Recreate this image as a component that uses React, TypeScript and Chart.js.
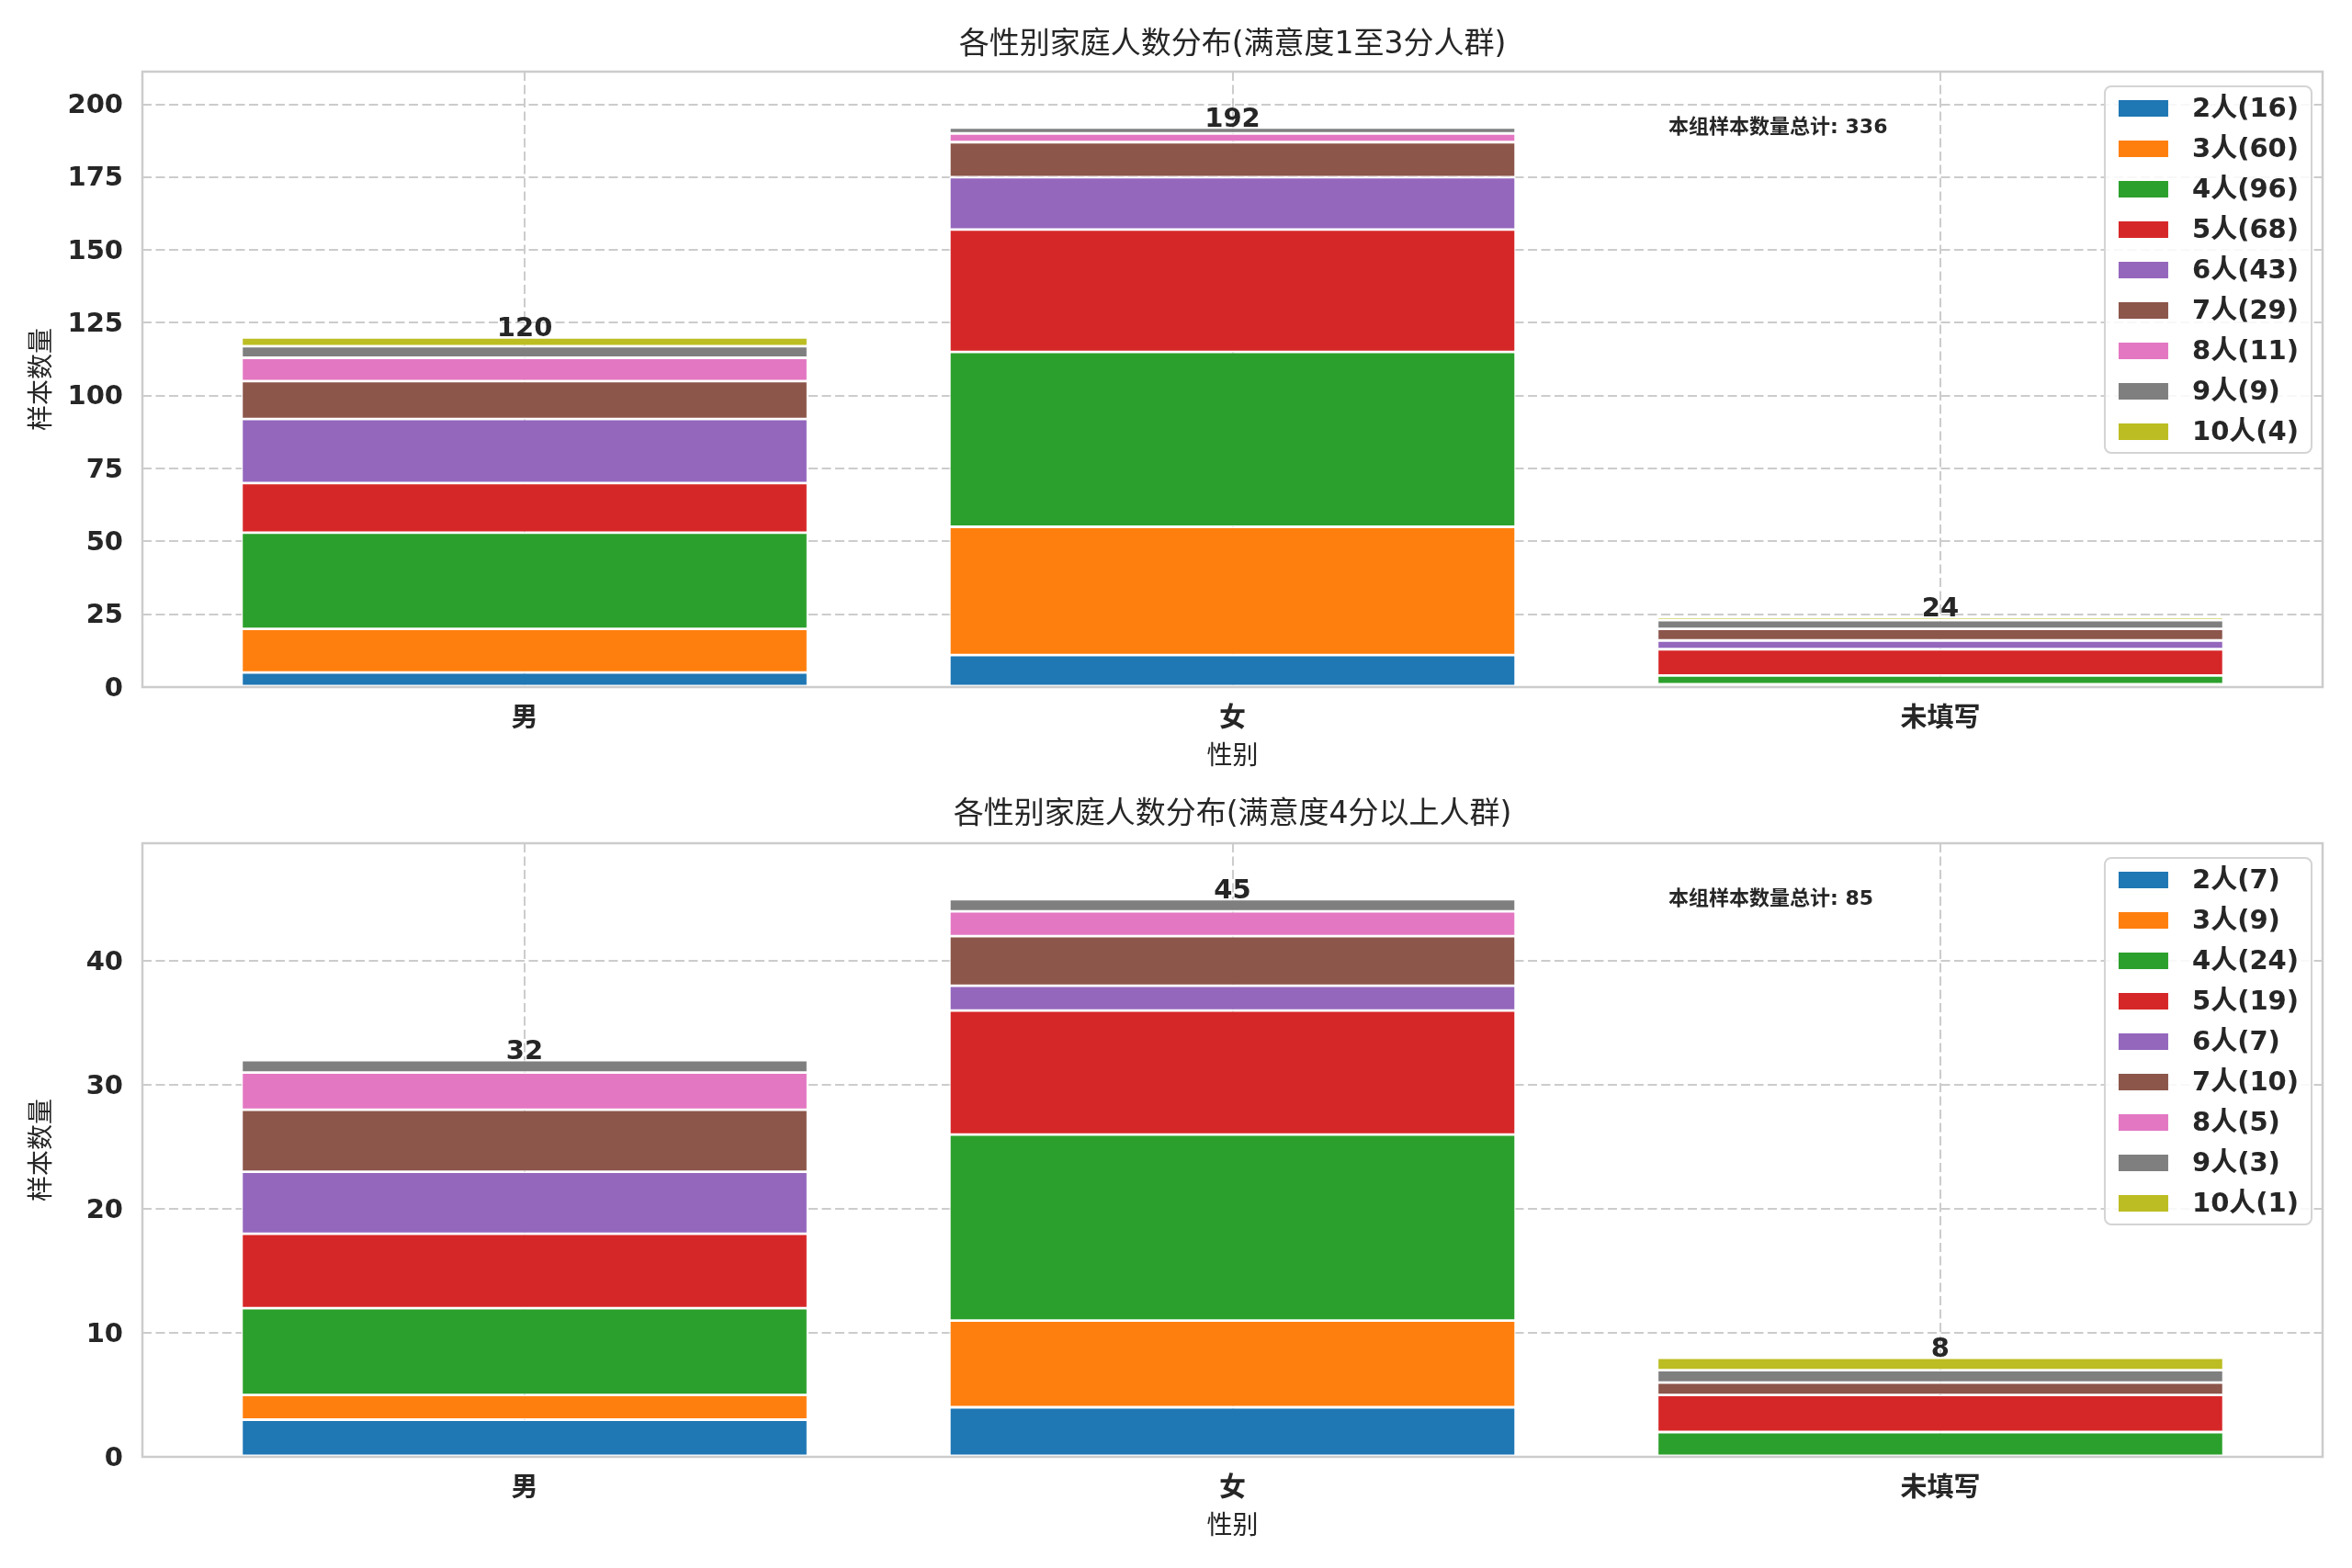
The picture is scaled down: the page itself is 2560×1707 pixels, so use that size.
import { useEffect, useRef } from 'react';
import { Chart, registerables } from 'chart.js';
Chart.register(...registerables);

const FONT = '"DejaVu Sans", "Noto Sans CJK SC", sans-serif';
const TEXT = '#262626';
const GRID = '#cccccc';

const categories = ['男', '女', '未填写'];
const sizeLabels = ['2人', '3人', '4人', '5人', '6人', '7人', '8人', '9人', '10人'];
const colors = ['#1f77b4', '#ff7f0e', '#2ca02c', '#d62728', '#9467bd', '#8c564b', '#e377c2', '#7f7f7f', '#bcbd22'];

// upper panel: one value per family size (2..10)
const topMale = [5, 15, 33, 17, 22, 13, 8, 4, 3];
const topFemale = [11, 44, 60, 42, 18, 12, 3, 2, 0];
const topUnknown = [0, 1, 3, 9, 3, 4, 0, 3, 1];

// lower panel
const bottomMale = [3, 2, 7, 6, 5, 5, 3, 1, 0];
const bottomFemale = [4, 7, 15, 10, 2, 4, 2, 1, 0];
const bottomUnknown = [0, 0, 2, 3, 0, 1, 0, 1, 1];

const topTitle = '各性别家庭人数分布(满意度1至3分人群)';
const bottomTitle = '各性别家庭人数分布(满意度4分以上人群)';
const xTitle = '性别';
const yTitle = '样本数量';
const notePrefix = '本组样本数量总计: ';

type PanelProps = {
  groups: number[][];
  title: string;
  step: number;
  height: number;
  padTop: number;
  padBottom: number;
  titleY: number;
};

function Panel({ groups, title, step, height, padTop, padBottom, titleY }: PanelProps) {
  const ref = useRef<HTMLCanvasElement | null>(null);

  useEffect(() => {
    if (!ref.current) return;
    const totals = groups.map((g) => g.reduce((a, b) => a + b, 0));
    const grand = totals.reduce((a, b) => a + b, 0);
    const ymax = Math.max(...totals) * 1.1;

    const datasets = sizeLabels.map((lab, k) => {
      const vals = groups.map((g) => g[k]);
      const sum = vals.reduce((a, b) => a + b, 0);
      return {
        label: `${lab}(${sum})`,
        data: vals.map((v, i) => ({ x: i, y: v })),
        backgroundColor: colors[k],
        borderColor: '#ffffff',
        borderWidth: 1.4,
        borderSkipped: false as const,
        barPercentage: 0.8,
        categoryPercentage: 1.0,
      };
    });

    const decor = {
      id: 'decor',
      afterDatasetsDraw(chart: any) {
        const { ctx, chartArea: a } = chart;
        const xs = chart.scales.x;
        const ys = chart.scales.y;
        ctx.save();

        // frame
        ctx.strokeStyle = GRID;
        ctx.lineWidth = 2.5;
        ctx.strokeRect(a.left, a.top, a.right - a.left, a.bottom - a.top);

        // totals over bars
        ctx.fillStyle = TEXT;
        ctx.font = `bold 29px ${FONT}`;
        ctx.textAlign = 'center';
        ctx.textBaseline = 'alphabetic';
        totals.forEach((t, i) => {
          ctx.fillText(String(t), xs.getPixelForValue(i), ys.getPixelForValue(t) - 1);
        });

        // note
        ctx.font = `bold 22px ${FONT}`;
        ctx.textAlign = 'left';
        ctx.fillText(notePrefix + grand, a.left + 0.7 * (a.right - a.left), a.top + 0.1 * (a.bottom - a.top));

        // title
        ctx.font = `33px ${FONT}`;
        ctx.textAlign = 'center';
        ctx.textBaseline = 'middle';
        ctx.fillText(title, (a.left + a.right) / 2, titleY);

        // legend
        ctx.font = `bold 29px ${FONT}`;
        const labels = chart.data.datasets.map((d: any) => d.label as string);
        const maxW = Math.max(...labels.map((t: string) => ctx.measureText(t).width));
        const rowH = 44;
        const boxW = 15 + 54 + 26 + maxW + 14;
        const boxH = (labels.length - 1) * rowH + 47;
        const right = a.right - 12;
        const left = right - boxW;
        const top = a.top + 16;
        ctx.beginPath();
        ctx.roundRect(left, top, boxW, boxH, 7);
        ctx.fillStyle = 'rgba(255,255,255,0.85)';
        ctx.fill();
        ctx.strokeStyle = '#d4d4d4';
        ctx.lineWidth = 2;
        ctx.stroke();
        ctx.textAlign = 'left';
        ctx.textBaseline = 'middle';
        labels.forEach((t: string, k: number) => {
          const cy = top + 24 + k * rowH;
          ctx.fillStyle = colors[k];
          ctx.fillRect(left + 15, cy - 9, 54, 18);
          ctx.fillStyle = TEXT;
          ctx.fillText(t, left + 15 + 54 + 26, cy + 1);
        });

        ctx.restore();
      },
    };

    const c = new Chart(ref.current, {
      type: 'bar',
      data: { datasets: datasets as any },
      options: {
        responsive: false,
        animation: false,
        devicePixelRatio: 1,
        events: [],
        layout: { padding: { top: padTop, right: 32, bottom: padBottom, left: 0 } },
        plugins: { legend: { display: false }, tooltip: { enabled: false }, title: { display: false } },
        scales: {
          x: {
            type: 'linear',
            min: -0.54,
            max: 2.54,
            offset: false,
            stacked: true,
            afterBuildTicks: (s: any) => {
              s.ticks = categories.map((_, i) => ({ value: i }));
            },
            afterFit: (s: any) => {
              s.height = 94;
            },
            ticks: {
              autoSkip: false,
              maxRotation: 0,
              padding: 18,
              color: TEXT,
              font: { family: FONT, size: 29, weight: 'bold' },
              callback: (v: any) => categories[v as number] ?? '',
            },
            grid: { color: GRID, lineWidth: 2, drawTicks: false, offset: false },
            border: { display: false, dash: [10, 4.5] },
            title: { display: true, text: xTitle, color: TEXT, font: { family: FONT, size: 28 }, padding: { top: 0, bottom: 0 } },
          },
          y: {
            type: 'linear',
            stacked: true,
            min: 0,
            max: ymax,
            afterFit: (s: any) => {
              s.width = 155;
            },
            ticks: {
              stepSize: step,
              includeBounds: false,
              padding: 21,
              labelOffset: 2,
              color: TEXT,
              font: { family: FONT, size: 29, weight: 'bold' },
            },
            grid: { color: GRID, lineWidth: 2, drawTicks: false },
            border: { display: false, dash: [10, 4.5] },
            title: { display: true, text: yTitle, color: TEXT, font: { family: FONT, size: 28 }, padding: { top: 30, bottom: 0 } },
          },
        },
      },
      plugins: [decor],
    });
    return () => c.destroy();
  }, []);

  return <canvas ref={ref} width={2560} height={height} style={{ display: 'block', width: 2560, height }} />;
}

export default function App() {
  return (
    <div style={{ position: 'fixed', left: 0, top: 0, width: 2560, height: 1707, background: '#ffffff' }}>
      <Panel groups={[topMale, topFemale, topUnknown]} title={topTitle} step={25} height={854} padTop={78} padBottom={12} titleY={49} />
      <Panel groups={[bottomMale, bottomFemale, bottomUnknown]} title={bottomTitle} step={10} height={853} padTop={64} padBottom={27} titleY={33} />
    </div>
  );
}
